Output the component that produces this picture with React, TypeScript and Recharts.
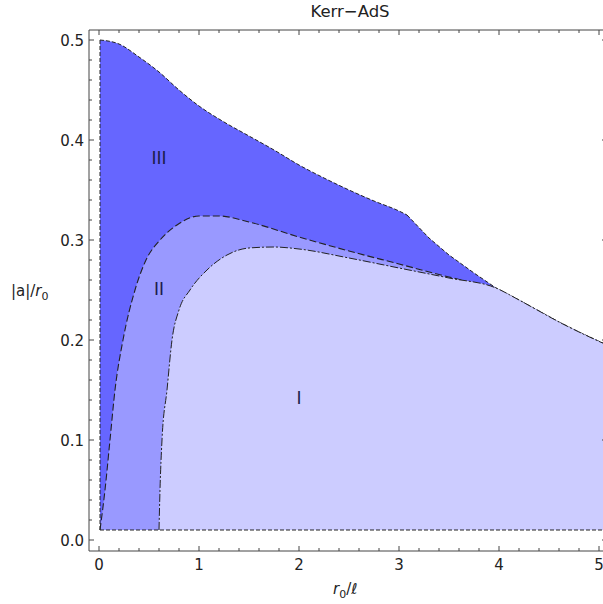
import React from 'react';
import { ComposedChart, Area, Scatter, XAxis, YAxis, ReferenceLine } from 'recharts';

// outer boundary of region III, split at the kink near r0/l ~ 3.08
const regionIIILeft = [
  { x: 0.01, y: 0.5 }, { x: 0.2, y: 0.496 }, { x: 0.4, y: 0.483 }, { x: 0.6, y: 0.468 },
  { x: 0.8, y: 0.45 }, { x: 1.0, y: 0.434 }, { x: 1.25, y: 0.418 }, { x: 1.5, y: 0.404 },
  { x: 1.75, y: 0.39 }, { x: 2.0, y: 0.375 }, { x: 2.25, y: 0.362 }, { x: 2.5, y: 0.35 },
  { x: 2.75, y: 0.339 }, { x: 3.0, y: 0.329 }, { x: 3.08, y: 0.325 },
];

const regionIIIRight = [
  { x: 3.08, y: 0.325 }, { x: 3.3, y: 0.302 }, { x: 3.5, y: 0.285 }, { x: 3.75, y: 0.267 },
  { x: 3.97, y: 0.252 }, { x: 4.2, y: 0.24 }, { x: 4.4, y: 0.229 }, { x: 4.6, y: 0.218 },
  { x: 4.8, y: 0.208 }, { x: 5.08, y: 0.195 },
];

const regionII = [
  { x: 0.01, y: 0.01 }, { x: 0.06, y: 0.05 }, { x: 0.11, y: 0.1 }, { x: 0.16, y: 0.15 },
  { x: 0.24, y: 0.2 }, { x: 0.36, y: 0.25 }, { x: 0.47, y: 0.28 }, { x: 0.61, y: 0.3 },
  { x: 0.78, y: 0.315 }, { x: 1.0, y: 0.324 }, { x: 1.2, y: 0.324 }, { x: 1.5, y: 0.318 },
  { x: 2.0, y: 0.303 }, { x: 2.5, y: 0.289 }, { x: 3.0, y: 0.276 }, { x: 3.5, y: 0.263 },
  { x: 3.97, y: 0.252 },
];

const regionI = [
  { x: 0.6, y: 0.01 }, { x: 0.61, y: 0.05 }, { x: 0.63, y: 0.1 }, { x: 0.68, y: 0.15 },
  { x: 0.73, y: 0.2 }, { x: 0.8, y: 0.23 }, { x: 0.91, y: 0.25 }, { x: 1.08, y: 0.27 },
  { x: 1.28, y: 0.285 }, { x: 1.5, y: 0.292 }, { x: 1.75, y: 0.293 }, { x: 2.0, y: 0.291 },
  { x: 2.5, y: 0.282 }, { x: 3.0, y: 0.272 }, { x: 3.5, y: 0.262 }, { x: 3.97, y: 0.252 },
  { x: 4.2, y: 0.24 }, { x: 4.4, y: 0.229 }, { x: 4.6, y: 0.218 }, { x: 4.8, y: 0.208 },
  { x: 5.08, y: 0.195 },
];

const regionLabels = [
  { x: 0.6, y: 0.382, label: 'III' },
  { x: 0.6, y: 0.251, label: 'II' },
  { x: 2.0, y: 0.142, label: 'I' },
];

const xTicks = [0, 0.2, 0.4, 0.6, 0.8, 1, 1.2, 1.4, 1.6, 1.8, 2, 2.2, 2.4, 2.6, 2.8, 3, 3.2, 3.4, 3.6, 3.8, 4, 4.2, 4.4, 4.6, 4.8, 5];
const yTicks = [0, 0.02, 0.04, 0.06, 0.08, 0.1, 0.12, 0.14, 0.16, 0.18, 0.2, 0.22, 0.24, 0.26, 0.28, 0.3, 0.32, 0.34, 0.36, 0.38, 0.4, 0.42, 0.44, 0.46, 0.48, 0.5];

const FRAME = '#444';
const EDGE = '#222';
const X_DOMAIN = [-0.1, 5.08];
const Y_DOMAIN = [-0.011, 0.51];

const isMajor = (v: number, step: number) => Math.abs(v / step - Math.round(v / step)) < 1e-6;

const BottomTick = (props: any) => {
  const { x, y, payload } = props;
  const major = isMajor(payload.value, 1);
  return (
    <g>
      <line x1={x} x2={x} y1={y} y2={y - (major ? 5 : 3)} stroke={FRAME} />
      {major && (
        <text x={x} y={y + 19} textAnchor="middle" fontSize={15} fill="#222">{payload.value}</text>
      )}
    </g>
  );
};

const TopTick = (props: any) => {
  const { x, y, payload } = props;
  const major = isMajor(payload.value, 1);
  return <line x1={x} x2={x} y1={y} y2={y + (major ? 5 : 3)} stroke={FRAME} />;
};

const LeftTick = (props: any) => {
  const { x, y, payload } = props;
  const major = isMajor(payload.value, 0.1);
  return (
    <g>
      <line x1={x} x2={x + (major ? 5 : 3)} y1={y} y2={y} stroke={FRAME} />
      {major && (
        <text x={x - 5} y={y + 5.5} textAnchor="end" fontSize={15} fill="#222">{payload.value.toFixed(1)}</text>
      )}
    </g>
  );
};

const RightTick = (props: any) => {
  const { x, y, payload } = props;
  const major = isMajor(payload.value, 0.1);
  return <line x1={x} x2={x - (major ? 5 : 3)} y1={y} y2={y} stroke={FRAME} />;
};

const RegionLabel = (props: any) => {
  const { cx, cy, payload } = props;
  return (
    <text x={cx} y={cy + 6} textAnchor="middle" fontSize={17} fill="#1c1c4a">{payload.label}</text>
  );
};

const areaCommon = {
  dataKey: 'y',
  type: 'monotone' as const,
  baseValue: 0.01,
  fillOpacity: 1,
  stroke: EDGE,
  strokeWidth: 1,
  isAnimationActive: false,
  dot: false,
  activeDot: false,
};

const App: React.FC = () => {
  return (
    <div style={{ position: 'absolute', left: 0, top: 0, width: 603, height: 604, overflow: 'hidden', fontFamily: 'DejaVu Sans', background: '#fff' }}>
      <ComposedChart width={614} height={604} margin={{ top: 0, right: 0, bottom: 0, left: 0 }}>
        <XAxis dataKey="x" type="number" domain={X_DOMAIN} ticks={xTicks} interval={0}
          tick={BottomTick} tickLine={false} tickSize={0} tickMargin={0} height={53}
          axisLine={{ stroke: FRAME }} allowDataOverflow />
        <XAxis xAxisId="top" orientation="top" dataKey="x" type="number" domain={X_DOMAIN} ticks={xTicks} interval={0}
          tick={TopTick} tickLine={false} tickSize={0} tickMargin={0} height={30}
          axisLine={{ stroke: FRAME }} allowDataOverflow />
        <YAxis type="number" domain={Y_DOMAIN} ticks={yTicks} interval={0}
          tick={LeftTick} tickLine={false} tickSize={0} tickMargin={0} width={89}
          axisLine={{ stroke: FRAME }} allowDataOverflow />
        <YAxis yAxisId="right" orientation="right" type="number" domain={Y_DOMAIN} ticks={yTicks} interval={0}
          tick={RightTick} tickLine={false} tickSize={0} tickMargin={0} width={7}
          axisLine={{ stroke: FRAME }} allowDataOverflow />

        <Area {...areaCommon} data={regionIIILeft} fill="#6666ff" strokeDasharray="4 2" />
        <Area {...areaCommon} data={regionIIIRight} type="linear" fill="#6666ff" strokeDasharray="4 2" />
        <Area {...areaCommon} data={regionII} fill="#9999ff" strokeWidth={1.1} strokeDasharray="7 3" />
        <Area {...areaCommon} data={regionI} fill="#ccccff" strokeDasharray="8 2 2 2" />

        <ReferenceLine segment={[{ x: 0.01, y: 0.01 }, { x: 5.08, y: 0.01 }]} stroke={EDGE} strokeDasharray="4 2" />
        <ReferenceLine segment={[{ x: 0.01, y: 0.01 }, { x: 0.01, y: 0.5 }]} stroke={EDGE} strokeDasharray="4 2" />

        <Scatter data={regionLabels} dataKey="y" shape={RegionLabel} isAnimationActive={false} />
      </ComposedChart>

      <svg width={603} height={604} style={{ position: 'absolute', left: 0, top: 0, pointerEvents: 'none' }}>
        <text x={350} y={17} textAnchor="middle" fontSize={16.5} fill="#222">Kerr−AdS</text>
        <text x={11} y={296} fontSize={15} fill="#222">
          |a|/<tspan fontStyle="italic">r</tspan><tspan fontSize={11} dy={4}>0</tspan>
        </text>
        <text x={333} y={594} fontSize={15} fill="#222">
          <tspan fontStyle="italic">r</tspan><tspan fontSize={11} dy={4}>0</tspan><tspan dy={-4}>/</tspan><tspan fontStyle="italic">ℓ</tspan>
        </text>
      </svg>
    </div>
  );
};

export default App;
